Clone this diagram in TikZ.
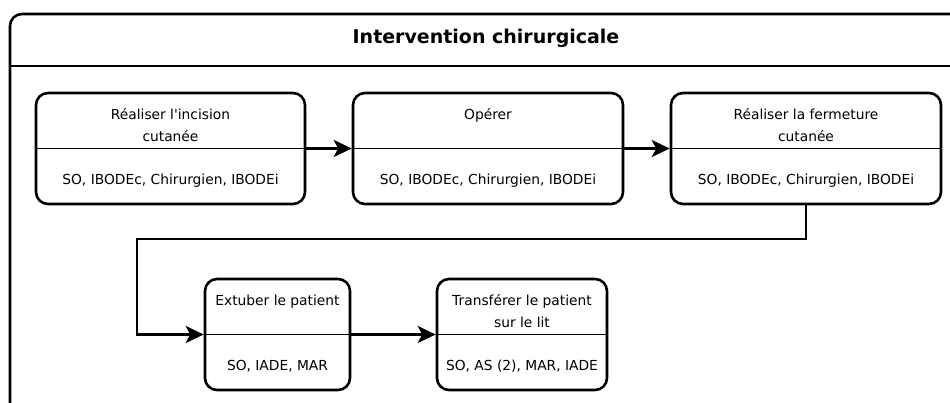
\documentclass[tikz,border=0pt]{standalone}
\usepackage{fontspec}
\setmainfont{DejaVu Sans}[Ligatures=TeXOff]
\usetikzlibrary{arrows.meta,calc}
\tikzset{
  stepbox/.style={draw, line width=2.6pt, rounded corners=12pt, minimum width=#1, minimum height=111pt, inner sep=0pt},
  divider/.style={line width=1.3pt},
  toptext/.style={anchor=north, align=center, font=\fontsize{13.8}{21.5}\selectfont, inner sep=0pt},
  bottext/.style={anchor=center, font=\fontsize{13.8}{17}\selectfont, inner sep=0pt},
  flow/.style={line width=2.8pt, -{Stealth[length=18pt,width=17pt,inset=4.5pt]}},
  frameline/.style={line width=2.6pt},
  titletext/.style={font=\fontsize{19}{22}\selectfont\bfseries, inner sep=0pt}
}
\begin{document}
\begin{tikzpicture}[x=1pt,y=-1pt]
\useasboundingbox (0,0) rectangle (950,403);
\clip (0,0) rectangle (950,403);
% frame
\draw[frameline, rounded corners=12pt] (970,14) -- (10,14) -- (10,420);
\draw[frameline] (10,66) -- (970,66);
\node[titletext] (title) at (486,38) {Intervention chirurgicale};
% boxes
\node[stepbox=269pt] (b1) at (170.5,148.5) {};
\node[stepbox=270pt] (b2) at (488,148.5) {};
\node[stepbox=270pt] (b3) at (806,148.5) {};
\node[stepbox=145pt] (b4) at (277.5,334.5) {};
\node[stepbox=170pt] (b5) at (522,334.5) {};
\foreach \b in {b1,b2,b3,b4,b5}{\draw[divider] (\b.west) -- (\b.east);}
% texts
\node[toptext] (t1) at ($(b1.north)+(0,17)$) {Réaliser l'incision\\cutanée};
\node[toptext] (t2) at ($(b2.north)+(0,17)$) {Opérer};
\node[toptext] (t3) at ($(b3.north)+(0,17)$) {Réaliser la fermeture\\cutanée};
\node[toptext] (t4) at ($(b4.north)+(0,17)$) {Extuber le patient};
\node[toptext] (t5) at ($(b5.north)+(0,17)$) {Transférer le patient\\sur le lit};
\node[bottext] (s1) at ($(b1.south)+(0,-25)$) {SO, IBODEc, Chirurgien, IBODEi};
\node[bottext] (s2) at ($(b2.south)+(0,-25)$) {SO, IBODEc, Chirurgien, IBODEi};
\node[bottext] (s3) at ($(b3.south)+(0,-25)$) {SO, IBODEc, Chirurgien, IBODEi};
\node[bottext] (s4) at ($(b4.south)+(0,-25)$) {SO, IADE, MAR};
\node[bottext] (s5) at ($(b5.south)+(0,-25)$) {SO, AS (2), MAR, IADE};
% connectors
\coordinate (turn) at (137,239);
\draw[flow] (b1.east) -- (b2.west);
\draw[flow] (b2.east) -- (b3.west);
\draw[flow] (b3.south) |- (turn) |- (b4.west);
\draw[flow] (b4.east) -- (b5.west);
\end{tikzpicture}
\end{document}
